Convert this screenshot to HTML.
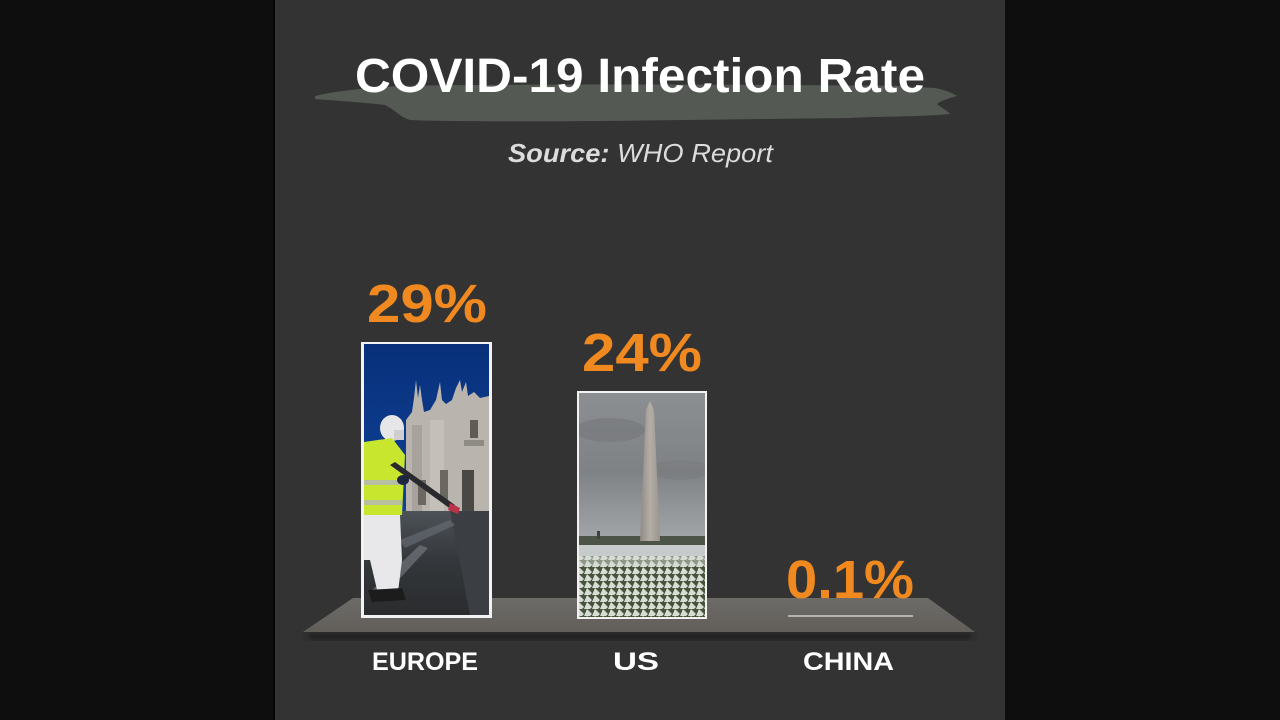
<!DOCTYPE html>
<html>
<head>
<meta charset="utf-8">
<style>
html,body{margin:0;padding:0;background:#0e0e0e;}
svg{display:block;}
</style>
</head>
<body>
<svg width="1280" height="720" viewBox="0 0 1280 720" xmlns="http://www.w3.org/2000/svg">
  <defs>
    <linearGradient id="skyEU" x1="0" y1="0" x2="0" y2="1">
      <stop offset="0" stop-color="#08307a"/>
      <stop offset="0.6" stop-color="#0f4297"/>
      <stop offset="1" stop-color="#2a64b0"/>
    </linearGradient>
    <linearGradient id="groundEU" x1="0" y1="0" x2="0" y2="1">
      <stop offset="0" stop-color="#4d5258"/>
      <stop offset="0.5" stop-color="#33363a"/>
      <stop offset="1" stop-color="#2a2c2e"/>
    </linearGradient>
    <linearGradient id="skyUS" x1="0" y1="0" x2="0" y2="1">
      <stop offset="0" stop-color="#8c8f92"/>
      <stop offset="0.35" stop-color="#7f8285"/>
      <stop offset="0.7" stop-color="#a8abad"/>
      <stop offset="1" stop-color="#d4d5d6"/>
    </linearGradient>
    <linearGradient id="obel" x1="0" y1="0" x2="1" y2="0">
      <stop offset="0" stop-color="#8e8a84"/>
      <stop offset="0.5" stop-color="#b3aea6"/>
      <stop offset="1" stop-color="#9a958e"/>
    </linearGradient>
    <pattern id="flags" width="8" height="7" patternUnits="userSpaceOnUse">
      <rect width="8" height="7" fill="#46543a"/>
      <path d="M0,7 L3,0 L8,5 L6,7 Z" fill="#d8dcd6"/>
    </pattern>
    <linearGradient id="plat" x1="0" y1="0" x2="0" y2="1">
      <stop offset="0" stop-color="#6d6b67"/>
      <stop offset="1" stop-color="#625f5b"/>
    </linearGradient>
    <filter id="blur2"><feGaussianBlur stdDeviation="3"/></filter>
    <clipPath id="clipEU"><rect x="364" y="344" width="125" height="271"/></clipPath>
    <clipPath id="clipUS"><rect x="579" y="393" width="126" height="224"/></clipPath>
  </defs>

  <!-- side backgrounds -->
  <rect x="0" y="0" width="1280" height="720" fill="#0e0e0e"/>
  <rect x="273" y="0" width="2" height="720" fill="#050505"/>
  <!-- panel -->
  <rect x="275" y="0" width="730" height="720" fill="#333333"/>

  <!-- title brush -->
  <path d="M315,96 C330,92 350,90 370,88 L400,86 C500,84 700,84 900,86 L935,88 C945,90 952,93 957,96 C950,98 940,101 937,104 C942,108 948,111 950,114 C920,117 880,116 850,118 L600,121 C500,122 430,121 410,120 C400,117 395,110 385,105 C370,103 340,101 315,99 Z" fill="#545a53"/>

  <!-- title -->
  <text x="355" y="92" font-family="Liberation Sans, Arial, sans-serif" font-weight="bold" font-size="48" fill="#ffffff" textLength="570" lengthAdjust="spacingAndGlyphs">COVID-19 Infection Rate</text>

  <!-- source -->
  <text x="508" y="162" font-family="Liberation Sans, Arial, sans-serif" font-size="26" fill="#dcdcdc" font-style="italic" textLength="265" lengthAdjust="spacingAndGlyphs"><tspan font-weight="bold">Source:</tspan> WHO Report</text>

  <!-- platform shadow -->
  <path d="M305,633 L975,633 L970,640 L310,640 Z" fill="#1e1e1e" filter="url(#blur2)" opacity="0.8"/>
  <!-- platform -->
  <path d="M353,598 L928,598 L975,632 L303,632 Z" fill="url(#plat)"/>

  <!-- EUROPE bar -->
  <rect x="361" y="342" width="131" height="276" fill="#f2f2f2"/>
  <g clip-path="url(#clipEU)">
    <rect x="364" y="344" width="125" height="271" fill="url(#skyEU)"/>
    <!-- cathedral -->
    <path d="M406,511 L406,420 L412,412 L414,398 L416,380 L418,398 L420,385 L422,400 L424,412 L430,410 L436,400 L440,382 L442,400 L446,404 L452,400 L456,388 L460,380 L462,392 L466,382 L468,396 L474,392 L480,398 L489,396 L489,511 Z" fill="#b9b5ae"/>
    <rect x="412" y="425" width="10" height="86" fill="#a7a39c"/>
    <rect x="430" y="420" width="14" height="91" fill="#c4c0b9"/>
    <rect x="462" y="470" width="12" height="41" fill="#4a4844"/>
    <rect x="470" y="420" width="8" height="18" fill="#5f5c57"/>
    <rect x="440" y="470" width="8" height="30" fill="#6b6862"/>
    <rect x="418" y="480" width="8" height="25" fill="#6b6862"/>
    <rect x="464" y="440" width="20" height="6" fill="#8e8a84"/>
    <!-- ground -->
    <rect x="364" y="511" width="125" height="104" fill="url(#groundEU)"/>
    <path d="M450,511 L489,511 L489,615 L470,615 Z" fill="#3b3e42"/>
    <path d="M400,540 L450,520 L455,525 L405,548 Z" fill="#6b7078" opacity="0.6"/>
    <path d="M372,590 L420,545 L428,548 L380,600 Z" fill="#7d8188" opacity="0.6"/>
    <!-- person -->
    <ellipse cx="392" cy="428" rx="12" ry="13" fill="#e6e6e8"/>
    <rect x="394" y="430" width="10" height="10" fill="#cfcfcf"/>
    <path d="M364,442 L392,438 L405,455 L402,515 L364,516 Z" fill="#c9e62e"/>
    <rect x="364" y="480" width="38" height="5" fill="#b7bfa0"/>
    <rect x="364" y="500" width="38" height="5" fill="#b7bfa0"/>
    <path d="M364,515 L400,515 L402,560 L398,592 L378,594 L370,560 L364,560 Z" fill="#e8e8ea"/>
    <path d="M368,590 L402,588 L406,600 L372,602 Z" fill="#1c1c1c"/>
    <path d="M390,465 L395,462 L455,505 L452,510 Z" fill="#2a2a2e"/>
    <path d="M450,503 L460,508 L458,514 L448,510 Z" fill="#b8324a"/>
    <ellipse cx="403" cy="480" rx="6" ry="5" fill="#1e2640"/>
  </g>

  <!-- US bar -->
  <rect x="577" y="391" width="130" height="228" fill="#f2f2f2"/>
  <g clip-path="url(#clipUS)">
    <rect x="579" y="393" width="126" height="224" fill="url(#skyUS)"/>
    <ellipse cx="610" cy="430" rx="35" ry="12" fill="#74777a" opacity="0.6"/>
    <ellipse cx="680" cy="470" rx="30" ry="10" fill="#777a7d" opacity="0.5"/>
    <!-- tree line -->
    <rect x="579" y="536" width="126" height="9" fill="#4c5448"/>
    <rect x="597" y="531" width="3" height="8" fill="#3e443c"/>
    <!-- obelisk -->
    <path d="M650,401 L654,410 L660,541 L640,541 L646,410 Z" fill="url(#obel)"/>
    <!-- water band -->
    <rect x="579" y="545" width="126" height="11" fill="#c7cbcb"/>
    <!-- flag field -->
    <rect x="579" y="556" width="126" height="61" fill="url(#flags)"/>
    <rect x="579" y="556" width="126" height="10" fill="#d6dad6" opacity="0.5"/>
  </g>

  <!-- China line -->
  <rect x="788" y="615" width="125" height="2" fill="#b5b3b0"/>

  <!-- percentages -->
  <g font-family="Liberation Sans, Arial, sans-serif" font-weight="bold" font-size="54" fill="#f0891f">
    <text x="367" y="322" textLength="120" lengthAdjust="spacingAndGlyphs">29%</text>
    <text x="582" y="371" textLength="120" lengthAdjust="spacingAndGlyphs">24%</text>
    <text x="786" y="598" textLength="128" lengthAdjust="spacingAndGlyphs">0.1%</text>
  </g>

  <!-- category labels -->
  <g font-family="Liberation Sans, Arial, sans-serif" font-weight="bold" font-size="25" fill="#ffffff">
    <text x="372" y="670" textLength="106" lengthAdjust="spacingAndGlyphs">EUROPE</text>
    <text x="613" y="670" textLength="46" lengthAdjust="spacingAndGlyphs">US</text>
    <text x="803" y="670" textLength="91" lengthAdjust="spacingAndGlyphs">CHINA</text>
  </g>
</svg>
</body>
</html>
